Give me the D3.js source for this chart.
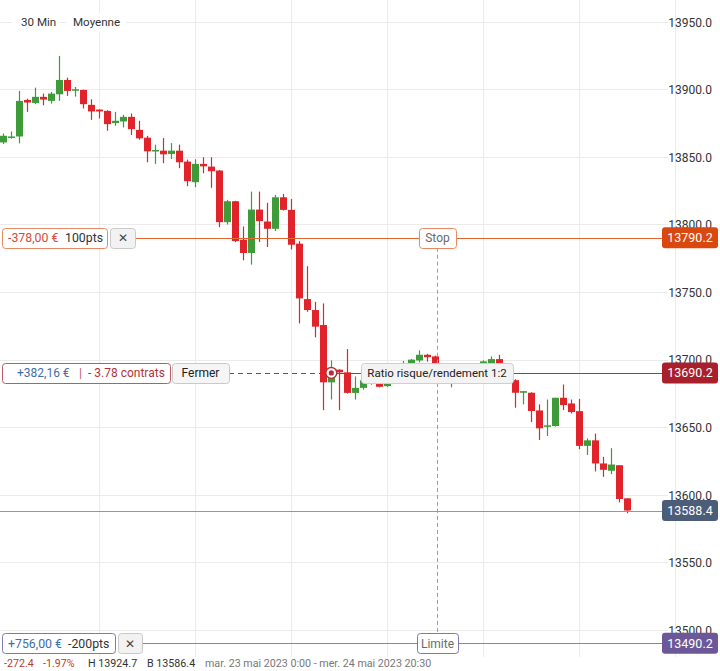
<!DOCTYPE html>
<html>
<head>
<meta charset="utf-8">
<script src="https://cdn.jsdelivr.net/npm/d3@7"></script>
<style>
  body { margin: 0; background: #fff; }
  svg { display: block; font-family: Roboto, "Noto Sans", sans-serif; }
</style>
</head>
<body>
<script>
// 30 min candles, 23 mai 2023 0:00 -> 24 mai 2023 20:30
var opens = [13860.7, 13864.6, 13865.1, 13892.1, 13889.9, 13894.4, 13891.4, 13896.3, 13906.9, 13899.3,
  13899.5, 13888.5, 13885.0, 13884.0, 13875.0, 13876.2, 13879.6, 13870.0, 13864.2, 13854.6,
  13854.6, 13852.1, 13854.6, 13846.5, 13831.3, 13844.8, 13842.8, 13839.9, 13801.7, 13817.2,
  13788.7, 13778.9, 13811.0, 13802.2, 13796.8, 13820.1, 13810.8, 13785.8, 13744.8, 13736.7,
  13725.6, 13683.2, 13692.6, 13690.6, 13675.4, 13679.1, 13685.0, 13684.0, 13680.4, 13686.0,
  13690.0, 13697.0, 13699.4, 13703.6, 13702.4, 13690.0, 13686.0, 13689.0, 13687.0, 13692.0,
  13695.0, 13697.5, 13700.4, 13691.0, 13684.8, 13675.5, 13675.5, 13662.4, 13650.4, 13650.9,
  13671.8, 13667.6, 13661.9, 13636.2, 13640.3, 13623.2, 13617.8, 13621.9, 13597.4];
var highs = [13867.3, 13868.8, 13898.8, 13893.1, 13901.2, 13896.8, 13898.0, 13924.7, 13908.6, 13901.7,
  13899.8, 13892.6, 13885.2, 13884.5, 13883.3, 13881.1, 13882.1, 13876.7, 13865.6, 13859.0,
  13863.9, 13860.2, 13859.0, 13848.0, 13848.2, 13849.7, 13849.7, 13840.3, 13818.2, 13817.5,
  13798.5, 13824.3, 13824.3, 13816.0, 13821.8, 13822.6, 13818.9, 13787.7, 13769.1, 13742.8,
  13741.6, 13699.4, 13692.8, 13707.8, 13687.6, 13686.0, 13687.0, 13686.0, 13689.0, 13693.0,
  13699.0, 13700.5, 13706.9, 13704.3, 13703.0, 13692.0, 13692.0, 13691.0, 13694.0, 13697.0,
  13699.5, 13702.4, 13703.6, 13692.0, 13685.5, 13676.7, 13675.9, 13666.9, 13670.5, 13671.8,
  13681.6, 13670.5, 13671.0, 13641.8, 13645.3, 13628.1, 13634.5, 13621.9, 13597.4];
var lows = [13859.5, 13863.4, 13860.0, 13883.3, 13889.0, 13888.2, 13889.4, 13891.4, 13895.1, 13894.6,
  13885.8, 13877.4, 13878.4, 13869.3, 13873.0, 13871.8, 13866.1, 13862.7, 13846.0, 13844.8,
  13845.3, 13848.4, 13841.6, 13828.3, 13827.6, 13837.9, 13827.1, 13798.0, 13800.0, 13787.0,
  13773.5, 13770.3, 13787.0, 13783.3, 13795.1, 13810.3, 13781.6, 13726.8, 13735.4, 13716.5,
  13662.6, 13670.5, 13662.6, 13674.9, 13670.5, 13677.8, 13681.5, 13679.5, 13679.8, 13684.0,
  13688.0, 13695.0, 13698.0, 13698.5, 13688.0, 13684.0, 13679.5, 13685.0, 13686.0, 13690.0,
  13693.0, 13696.0, 13690.0, 13682.0, 13664.4, 13666.9, 13653.8, 13640.6, 13643.5, 13650.4,
  13662.7, 13660.2, 13633.7, 13629.5, 13617.3, 13613.3, 13615.3, 13594.4, 13586.4];
var closes = [13865.6, 13865.1, 13891.4, 13890.2, 13894.4, 13892.4, 13896.8, 13906.9, 13898.8, 13900.0,
  13889.0, 13883.6, 13883.6, 13874.2, 13876.7, 13879.6, 13870.5, 13863.7, 13854.1, 13855.1,
  13851.9, 13854.6, 13846.0, 13832.0, 13844.8, 13843.0, 13839.4, 13801.7, 13817.2, 13787.7,
  13778.9, 13811.0, 13802.5, 13796.8, 13820.1, 13810.8, 13785.0, 13745.3, 13736.7, 13724.4,
  13683.2, 13687.6, 13690.6, 13675.4, 13679.1, 13684.7, 13682.3, 13679.9, 13686.0, 13690.0,
  13697.0, 13700.0, 13703.6, 13701.8, 13690.0, 13686.0, 13689.0, 13687.0, 13692.0, 13695.0,
  13698.7, 13700.4, 13691.0, 13682.8, 13675.5, 13676.7, 13662.0, 13649.2, 13651.4, 13671.8,
  13666.4, 13661.2, 13636.2, 13640.3, 13623.2, 13618.5, 13622.4, 13596.9, 13588.4];

var yTicks = [13500, 13550, 13600, 13650, 13700, 13750, 13800, 13850, 13900, 13950];
var stopPrice = 13790.2;
var entryPrice = 13690.2;
var lastPrice = 13588.4;
var limitPrice = 13490.2;
var entryIndex = 41;

var width = 720;
var height = 671;

const svg = d3.select("body").append("svg")
  .attr("width", width)
  .attr("height", height);

svg.append("rect").attr("width", width).attr("height", height).attr("fill", "#fff");

const x = d3.scaleLinear().domain([0, 78]).range([3.3, 627.3]);
const y = d3.scaleLinear().domain([13500, 13950]).range([630, 21.7]);

const px = (v) => Math.round(v) + 0.5;

// grid
const grid = svg.append("g");
grid.selectAll(".hg").data(yTicks).enter().append("line")
  .attr("x1", 0).attr("x2", 668)
  .attr("y1", (d) => px(y(d))).attr("y2", (d) => px(y(d)))
  .attr("stroke", "#ebebeb");
grid.selectAll(".vg").data([12, 24, 36, 48, 60, 72, 84]).enter().append("line")
  .attr("x1", (d) => px(x(d))).attr("x2", (d) => px(x(d)))
  .attr("y1", 0).attr("y2", 657)
  .attr("stroke", "#ebebeb");

// y axis labels
const axis = d3.axisRight(y).tickValues(yTicks).tickFormat(d3.format(".1f")).tickSize(0);
const ax = svg.append("g").attr("transform", "translate(670,0)").call(axis);
ax.select(".domain").remove();
ax.selectAll("text")
  .attr("x", 42).attr("text-anchor", "end").attr("dy", "0.36em")
  .attr("fill", "#333").style("font-size", "12px").style("font-family", "Roboto, sans-serif");

// top-left legend
[["30 Min", 21, 12, 60], ["Moyenne", 73, 66, 126]].forEach(function (t) {
  svg.append("rect").attr("x", t[2]).attr("y", 13).attr("width", t[3] - t[2]).attr("height", 18).attr("fill", "#fff");
  svg.append("text").attr("x", t[1]).attr("y", 26).text(t[0])
    .attr("fill", "#333").style("font-size", "11.6px");
});

// candles
const candles = svg.append("g");
const data = d3.range(opens.length).map((i) => ({ i: i, o: opens[i], h: highs[i], l: lows[i], c: closes[i] }));
const col = (d) => (d.c >= d.o ? "#3d9c39" : "#e1242b");
candles.selectAll(".wick").data(data).enter().append("line")
  .attr("x1", (d) => px(x(d.i))).attr("x2", (d) => px(x(d.i)))
  .attr("y1", (d) => y(d.h)).attr("y2", (d) => y(d.l))
  .attr("stroke", col).attr("stroke-width", 1.2);
candles.selectAll(".body").data(data).enter().append("rect")
  .attr("x", (d) => Math.round(x(d.i)) - 3)
  .attr("width", 7)
  .attr("y", (d) => y(Math.max(d.o, d.c)))
  .attr("height", (d) => Math.max(1.5, Math.abs(y(d.o) - y(d.c))))
  .attr("fill", col);

// order lines
const lines = svg.append("g");
function hline(price, x1, x2, color, dash, w) {
  lines.append("line")
    .attr("x1", x1).attr("x2", x2)
    .attr("y1", px(y(price))).attr("y2", px(y(price)))
    .attr("stroke", color).attr("stroke-width", w || 1.2)
    .attr("stroke-dasharray", dash || null);
}
hline(lastPrice, 0, 662, "#8f97ad", null, 1);
hline(stopPrice, 135, 662, "#e0652f");
hline(limitPrice, 142, 662, "#8a7fb6");
hline(entryPrice, 229, x(entryIndex), "#b3313a", "5,4");
hline(entryPrice, x(entryIndex), 662, "#b3313a");

// vertical dashed link
lines.append("line").attr("x1", 437.5).attr("x2", 437.5)
  .attr("y1", y(stopPrice) + 10).attr("y2", y(entryPrice) - 10)
  .attr("stroke", "#e8875d").attr("stroke-dasharray", "4,3");
lines.append("line").attr("x1", 437.5).attr("x2", 437.5)
  .attr("y1", y(entryPrice) + 10).attr("y2", y(limitPrice) - 10)
  .attr("stroke", "#9a98b4").attr("stroke-dasharray", "4,3");

// entry marker
svg.append("circle").attr("cx", x(entryIndex)).attr("cy", y(entryPrice))
  .attr("r", 5.5).attr("fill", "#fff").attr("stroke", "#b3313a").attr("stroke-width", 1.5);
svg.append("circle").attr("cx", x(entryIndex)).attr("cy", y(entryPrice))
  .attr("r", 2.6).attr("fill", "#b3313a");

// label boxes
function box(x0, w, price, stroke, fill, parts, size) {
  const cy = y(price);
  const g = svg.append("g");
  g.append("rect").attr("x", x0 + 0.5).attr("y", Math.round(cy) - 10 + 0.5)
    .attr("width", w).attr("height", 20).attr("rx", 3)
    .attr("fill", fill).attr("stroke", stroke);
  const t = g.append("text").attr("y", cy + 4.3).style("font-size", (size || 12) + "px");
  parts.forEach(function (p) {
    t.append("tspan").attr("x", p[1]).attr("fill", p[2]).attr("text-anchor", p[3] || "start").text(p[0]);
  });
  return g;
}

box(2, 105, stopPrice, "#e58a64", "#fff", [["-378,00 €", 8, "#d8473a"], ["100pts", 65, "#333"]], 12.3);
box(110, 25, stopPrice, "#c9c9c9", "#f2f2f2", [["✕", 122.5, "#444", "middle"]]);
box(419, 37, stopPrice, "#e58a64", "#fff", [["Stop", 437.5, "#6b6b6b", "middle"]]);

box(2, 168, entryPrice, "#be5a60", "#fff", [["+382,16 €", 17, "#3f6ea8"], ["|", 79, "#be5a60"], ["- 3.78 contrats", 88, "#b3313a"]]);
box(172, 57, entryPrice, "#c9c9c9", "#f5f5f5", [["Fermer", 200.5, "#222", "middle"]]);
box(361, 152, entryPrice, "#cfcfcf", "#f3f3f3", [["Ratio risque/rendement 1:2", 437, "#222", "middle"]], 11.5);

box(2, 113, limitPrice, "#8277b2", "#fff", [["+756,00 €", 8, "#3f6ea8"], ["-200pts", 68, "#333"]], 12.3);
box(118, 24, limitPrice, "#c9c9c9", "#f2f2f2", [["✕", 130, "#444", "middle"]]);
box(417, 41, limitPrice, "#8277b2", "#fff", [["Limite", 437.5, "#6b6b6b", "middle"]]);

// price tags on the axis
[[stopPrice, "#d9480f"], [entryPrice, "#a8202b"], [lastPrice, "#4b5d79"], [limitPrice, "#6c5898"]].forEach(function (p) {
  const cy = y(p[0]);
  svg.append("rect").attr("x", 662).attr("y", cy - 10.5).attr("width", 56).attr("height", 21)
    .attr("rx", 3).attr("fill", p[1]);
  svg.append("text").attr("x", 690).attr("y", cy + 4.5).attr("text-anchor", "middle")
    .attr("fill", "#fff").style("font-size", "12.5px").text(d3.format(".1f")(p[0]));
});

// footer
const foot = svg.append("text").attr("y", 667).style("font-size", "10.7px");
[["-272.4", 4, "#c0392b"], ["-1.97%", 43, "#c0392b"], ["H 13924.7", 88, "#333"], ["B 13586.4", 147, "#333"],
 ["mar. 23 mai 2023 0:00 - mer. 24 mai 2023 20:30", 205, "#777"]].forEach(function (p) {
  foot.append("tspan").attr("x", p[1]).attr("fill", p[2]).text(p[0]);
});
</script>
</body>
</html>
